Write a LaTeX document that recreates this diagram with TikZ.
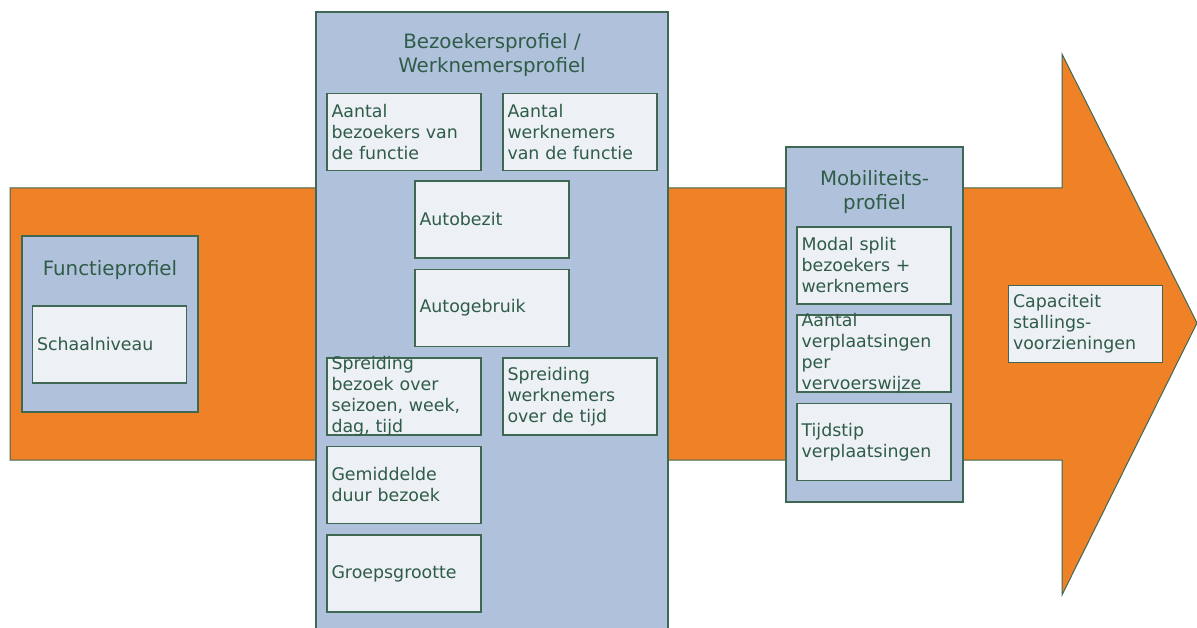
\documentclass[tikz,border=0pt]{standalone}
\usepackage{fontspec}
\setmainfont{DejaVu Sans}
\definecolor{arrowor}{RGB}{239,130,38}
\definecolor{panelblue}{RGB}{176,194,219}
\definecolor{boxfill}{RGB}{237,240,245}
\definecolor{edge}{RGB}{62,104,84}
\definecolor{txt}{RGB}{47,92,72}
\begin{document}
\begin{tikzpicture}[x=1pt,y=-1pt,
  panel/.style={draw=edge, fill=panelblue, line width=1.5pt, inner sep=0pt},
  item/.style={draw=edge, fill=boxfill, line width=1.5pt, minimum width=154pt, minimum height=77pt, inner sep=0pt},
  lab/.style={text width=145pt, align=left, inner sep=0pt, text=txt, font=\fontsize{17.4}{21}\selectfont},
  ttl/.style={align=center, inner sep=0pt, text=txt, font=\fontsize{19.8}{24}\selectfont}]
\clip (0,0) rectangle (1197,628);
% big arrow
\draw[draw=edge, fill=arrowor, line width=1pt]
  (10,188) -- (1062,188) -- (1062,54) -- (1197,323) -- (1062,595) -- (1062,460) -- (10,460) -- cycle;
% panels
\node[panel, minimum width=176pt, minimum height=176pt] (fp) at (110,324) {};
\node[panel, minimum width=352pt, minimum height=628pt] (bp) at (492,326) {};
\node[panel, minimum width=177pt, minimum height=355pt] (mp) at (874.5,324.5) {};
% titles
\node[ttl] (fpt) at (110,270) {Functieprofiel};
\node[ttl] (bpt) at (492,55) {Bezoekersprofiel /\\Werknemersprofiel};
\node[ttl] (mpt) at (874.5,192.5) {Mobiliteits-\\profiel};
% items
\node[item, label={[lab]center:{Schaalniveau}}] (schaal) at (109.5,344.5) {};
\node[item, label={[lab]center:{Aantal\\bezoekers van\\de functie}}] (abez) at (404,132) {};
\node[item, label={[lab]center:{Aantal\\werknemers\\van de functie}}] (awerk) at (580,132) {};
\node[item, label={[lab]center:{Autobezit}}] (bezit) at (492,219.5) {};
\node[item, label={[lab]center:{Autogebruik}}] (gebruik) at (492,308) {};
\node[item, label={[lab]center:{Spreiding\\bezoek over\\seizoen, week,\\dag, tijd}}] (sbez) at (404,396.5) {};
\node[item, label={[lab]center:{Spreiding\\werknemers\\over de tijd}}] (swerk) at (580,396.5) {};
\node[item, label={[lab]center:{Gemiddelde\\duur bezoek}}] (duur) at (404,485) {};
\node[item, label={[lab]center:{Groepsgrootte}}] (groep) at (404,573.5) {};
\node[item, label={[lab]center:{Modal split\\bezoekers +\\werknemers}}] (modal) at (874,265.5) {};
\node[item, label={[lab]center:{Aantal\\verplaatsingen\\per\\vervoerswijze}}] (verpl) at (874,353.5) {};
\node[item, label={[lab]center:{Tijdstip\\verplaatsingen}}] (tijd) at (874,442) {};
\node[item, label={[lab]center:{Capaciteit\\stallings-\\voorzieningen}}] (cap) at (1085.5,324) {};
\end{tikzpicture}
\end{document}
